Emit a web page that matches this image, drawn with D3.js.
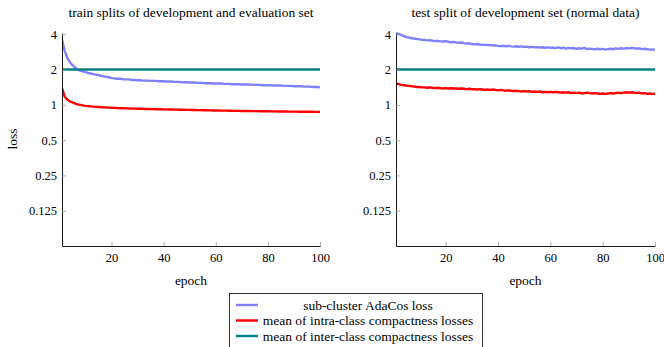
<!DOCTYPE html>
<html>

<head>
    <meta charset="utf-8">
    <title>losses</title>
    <script src="https://d3js.org/d3.v7.min.js" charset="utf-8"></script>
    <style>
        body { margin: 0; background: #fff; }
    </style>
</head>

<body>

    <div class="box"></div>

    <script type="text/javascript">
        var epochs = d3.range(1, 101);
        var yTicks = [0.125, 0.25, 0.5, 1, 2, 4];
        var xTicks = [20, 40, 60, 80, 100];
        var titles = ["train splits of development and evaluation set", "test split of development set (normal data)"];
        var seriesNames = ["sub-cluster AdaCos loss", "mean of intra-class compactness losses", "mean of inter-class compactness losses"];

        // train splits
        var adacosTrain = [3.60, 2.90, 2.52, 2.32, 2.18, 2.08, 2.00, 1.96, 1.93, 1.90,
            1.87, 1.85, 1.83, 1.81, 1.79, 1.77, 1.75, 1.73, 1.72, 1.69,
            1.68, 1.67, 1.67, 1.66, 1.65, 1.65, 1.64, 1.63, 1.63, 1.62,
            1.62, 1.61, 1.61, 1.61, 1.60, 1.60, 1.60, 1.59, 1.59, 1.59,
            1.58, 1.58, 1.58, 1.57, 1.57, 1.57, 1.56, 1.56, 1.56, 1.55,
            1.55, 1.55, 1.54, 1.54, 1.54, 1.53, 1.53, 1.53, 1.52, 1.52,
            1.52, 1.52, 1.51, 1.51, 1.51, 1.50, 1.50, 1.50, 1.50, 1.49,
            1.49, 1.49, 1.49, 1.48, 1.48, 1.48, 1.48, 1.47, 1.47, 1.47,
            1.47, 1.46, 1.46, 1.46, 1.46, 1.45, 1.45, 1.45, 1.45, 1.44,
            1.44, 1.44, 1.44, 1.43, 1.43, 1.43, 1.42, 1.42, 1.42, 1.41];
        var intraTrain = [1.39, 1.18, 1.11, 1.07, 1.05, 1.03, 1.01, 1.00, 0.99, 0.98,
            0.975, 0.970, 0.965, 0.960, 0.958, 0.955, 0.952, 0.950, 0.947, 0.945,
            0.943, 0.940, 0.938, 0.936, 0.934, 0.932, 0.930, 0.929, 0.928, 0.926,
            0.925, 0.924, 0.922, 0.921, 0.920, 0.919, 0.918, 0.917, 0.916, 0.915,
            0.914, 0.913, 0.912, 0.911, 0.910, 0.909, 0.908, 0.907, 0.906, 0.905,
            0.904, 0.903, 0.902, 0.901, 0.900, 0.899, 0.898, 0.897, 0.896, 0.895,
            0.894, 0.893, 0.893, 0.892, 0.891, 0.890, 0.889, 0.889, 0.888, 0.887,
            0.886, 0.886, 0.885, 0.884, 0.884, 0.883, 0.882, 0.882, 0.881, 0.881,
            0.880, 0.879, 0.879, 0.878, 0.878, 0.877, 0.877, 0.876, 0.876, 0.875,
            0.875, 0.874, 0.874, 0.873, 0.873, 0.872, 0.872, 0.871, 0.871, 0.870];

        // test split
        var adacosTest = [4.10, 4.02, 3.95, 3.86, 3.78, 3.74, 3.70, 3.68, 3.64, 3.62,
            3.58, 3.57, 3.55, 3.56, 3.52, 3.50, 3.51, 3.48, 3.47, 3.49,
            3.45, 3.42, 3.44, 3.40, 3.38, 3.40, 3.36, 3.33, 3.35, 3.30,
            3.28, 3.30, 3.27, 3.25, 3.26, 3.23, 3.24, 3.20, 3.22, 3.18,
            3.17, 3.19, 3.16, 3.18, 3.15, 3.14, 3.16, 3.13, 3.15, 3.12,
            3.13, 3.10, 3.12, 3.09, 3.11, 3.08, 3.10, 3.07, 3.09, 3.06,
            3.08, 3.05, 3.09, 3.04, 3.07, 3.02, 3.06, 3.04, 3.05, 3.01,
            3.04, 3.02, 3.06, 2.99, 3.02, 3.00, 2.97, 3.01, 2.98, 3.00,
            2.96, 2.99, 3.01, 2.98, 3.03, 3.00, 3.04, 3.02, 3.05, 3.03,
            3.06, 3.04, 3.02, 3.03, 2.99, 3.01, 2.98, 2.96, 2.97, 2.94];
        var intraTest = [1.52, 1.50, 1.48, 1.47, 1.46, 1.45, 1.44, 1.43, 1.42, 1.42,
            1.41, 1.41, 1.40, 1.41, 1.40, 1.39, 1.40, 1.39, 1.38, 1.39,
            1.38, 1.39, 1.38, 1.38, 1.37, 1.38, 1.37, 1.36, 1.37, 1.36,
            1.36, 1.35, 1.36, 1.35, 1.34, 1.35, 1.34, 1.35, 1.34, 1.33,
            1.34, 1.33, 1.32, 1.33, 1.32, 1.31, 1.32, 1.31, 1.30, 1.31,
            1.30, 1.31, 1.29, 1.30, 1.29, 1.30, 1.28, 1.29, 1.28, 1.29,
            1.28, 1.29, 1.28, 1.27, 1.28, 1.27, 1.28, 1.26, 1.27, 1.26,
            1.27, 1.25, 1.26, 1.27, 1.26, 1.25, 1.26, 1.25, 1.24, 1.25,
            1.24, 1.25, 1.26, 1.25, 1.26, 1.27, 1.26, 1.27, 1.28, 1.27,
            1.28, 1.27, 1.26, 1.27, 1.25, 1.26, 1.24, 1.25, 1.24, 1.24];

        // inter-class loss is flat at 2
        var interEpochs = [1, 100];
        var interTrain = [2.0, 2.0];
        var interTest = [2.0, 2.0];

        var colors = ["rgb(128,128,255)", "rgb(255,0,0)", "rgb(0,128,128)"];
        var serif = "'Liberation Serif', 'Times New Roman', 'DejaVu Serif', serif";
        var width = 664;
        var height = 347;
        var plotTop = 33, plotBottom = 246;

        var svg = d3.select("div.box").append("svg")
            .attr("width", width)
            .attr("height", height)
            .style("font-family", serif);

        var panels = [
            { left: 62, right: 320, title: titles[0], lines: [[epochs, adacosTrain], [epochs, intraTrain], [interEpochs, interTrain]], ylabel: true },
            { left: 396, right: 655, title: titles[1], lines: [[epochs, adacosTest], [epochs, intraTest], [interEpochs, interTest]], ylabel: false }
        ];

        var y = d3.scaleLog().base(2)
            .domain([1 / 16, 4.1])
            .range([plotBottom, plotTop]);

        function label(sel, size) {
            sel.style("font-family", serif)
                .style("font-size", (size || 13.5) + "px")
                .attr("fill", "#000");
        }

        panels.forEach(function(p, pi) {
            var x = d3.scaleLinear()
                .domain([1, 100])
                .range([p.left, p.right]);

            var g = svg.append("g");

            g.append("clipPath").attr("id", "clip" + pi)
                .append("rect")
                .attr("x", p.left).attr("y", plotTop - 4)
                .attr("width", p.right - p.left).attr("height", plotBottom - plotTop + 4);

            var line = d3.line()
                .x(function(d) { return x(d[0]); })
                .y(function(d) { return y(d[1]); });

            p.lines.forEach(function(s, i) {
                var pts = s[0].map(function(e, k) { return [e, s[1][k]]; });
                g.append("path")
                    .datum(pts)
                    .attr("clip-path", "url(#clip" + pi + ")")
                    .attr("d", line)
                    .attr("fill", "none")
                    .attr("stroke", colors[i])
                    .attr("stroke-width", 2.4)
                    .attr("stroke-linejoin", "round");
            });

            var yAxis = d3.axisLeft(y)
                .tickValues(yTicks)
                .tickFormat(function(d) { return String(d); })
                .tickSizeInner(-4)
                .tickSizeOuter(0)
                .tickPadding(5);
            var ya = g.append("g")
                .attr("transform", "translate(" + p.left + ",0)")
                .call(yAxis);

            var xAxis = d3.axisBottom(x)
                .tickValues(xTicks)
                .tickSizeInner(-4)
                .tickSizeOuter(0)
                .tickPadding(7);
            var xa = g.append("g")
                .attr("transform", "translate(0," + plotBottom + ")")
                .call(xAxis);

            [ya, xa].forEach(function(a) {
                a.attr("font-family", null).attr("font-size", null);
                a.selectAll("text").call(label, 12.5);
                a.selectAll(".tick line").attr("stroke", "#999").attr("stroke-width", 0.8);
                a.select(".domain").attr("stroke", "#000").attr("stroke-width", 0.9);
            });

            g.append("text")
                .attr("x", (p.left + p.right) / 2)
                .attr("y", 17)
                .attr("text-anchor", "middle")
                .call(label)
                .text(p.title);

            g.append("text")
                .attr("x", (p.left + p.right) / 2)
                .attr("y", 285)
                .attr("text-anchor", "middle")
                .call(label)
                .text("epoch");

            if (p.ylabel) {
                g.append("text")
                    .attr("transform", "translate(17,139) rotate(-90)")
                    .attr("text-anchor", "middle")
                    .call(label)
                    .text("loss");
            }
        });

        // legend
        var lg = svg.append("g");
        lg.append("rect")
            .attr("x", 229.5).attr("y", 293.5)
            .attr("width", 253).attr("height", 70)
            .attr("fill", "#fff")
            .attr("stroke", "#000")
            .attr("stroke-width", 0.8);
        var rows = [305, 320.5, 336];
        seriesNames.forEach(function(n, i) {
            lg.append("line")
                .attr("x1", 236).attr("x2", 258)
                .attr("y1", rows[i]).attr("y2", rows[i])
                .attr("stroke", colors[i])
                .attr("stroke-width", 2.4);
            lg.append("text")
                .attr("x", 368)
                .attr("y", rows[i] + 4.5)
                .attr("text-anchor", "middle")
                .call(label)
                .text(n);
        });
    </script>

</body>

</html>
